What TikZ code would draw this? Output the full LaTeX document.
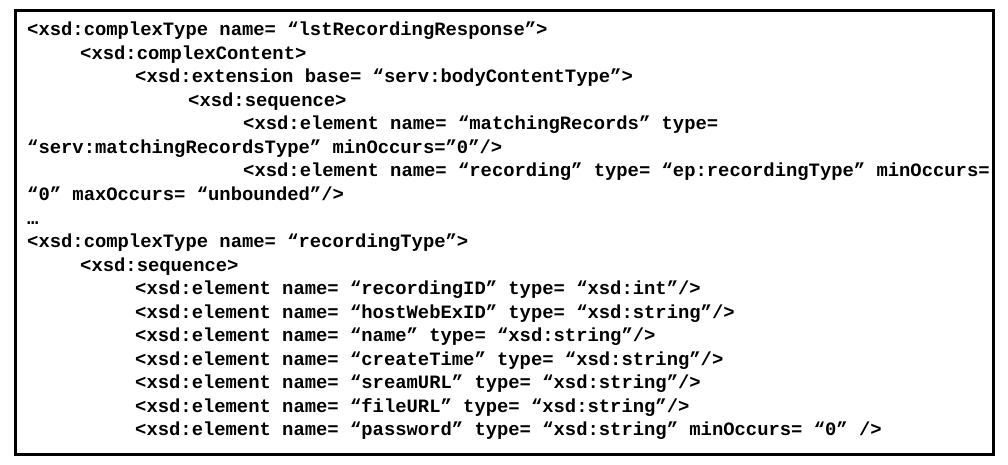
\documentclass[tikz,border=0pt]{standalone}
\usepackage{fontspec}
\setmonofont{Liberation Mono}
\begin{document}
\begin{tikzpicture}[x=1pt,y=-1pt,
  code/.style={anchor=base west,inner sep=0pt,font=\ttfamily\bfseries\fontsize{18.85}{23.5}\selectfont}]
\useasboundingbox (0,0) rectangle (1008,465);
\draw[line width=3pt] (15,11) rectangle (993,454);
\node[code] (l1) at (27,36) {<xsd:complexType name= “lstRecordingResponse”>};
\node[code] (l2) at (80,59.5) {<xsd:complexContent>};
\node[code] (l3) at (135,83) {<xsd:extension base= “serv:bodyContentType”>};
\node[code] (l4) at (188,106.5) {<xsd:sequence>};
\node[code] (l5) at (243,130) {<xsd:element name= “matchingRecords” type=};
\node[code] (l6) at (27,153.5) {“serv:matchingRecordsType” minOccurs=”0”/>};
\node[code] (l7) at (243,177) {<xsd:element name= “recording” type= “ep:recordingType” minOccurs=};
\node[code] (l8) at (27,200.5) {“0” maxOccurs= “unbounded”/>};
\node[code] (l9) at (27,224) {…};
\node[code] (l10) at (27,247.5) {<xsd:complexType name= “recordingType”>};
\node[code] (l11) at (80,271) {<xsd:sequence>};
\node[code] (l12) at (135,294.5) {<xsd:element name= “recordingID” type= “xsd:int”/>};
\node[code] (l13) at (135,318) {<xsd:element name= “hostWebExID” type= “xsd:string”/>};
\node[code] (l14) at (135,341.5) {<xsd:element name= “name” type= “xsd:string”/>};
\node[code] (l15) at (135,365) {<xsd:element name= “createTime” type= “xsd:string”/>};
\node[code] (l16) at (135,388.5) {<xsd:element name= “sreamURL” type= “xsd:string”/>};
\node[code] (l17) at (135,412) {<xsd:element name= “fileURL” type= “xsd:string”/>};
\node[code] (l18) at (135,435.5) {<xsd:element name= “password” type= “xsd:string” minOccurs= “0” />};
\end{tikzpicture}
\end{document}
